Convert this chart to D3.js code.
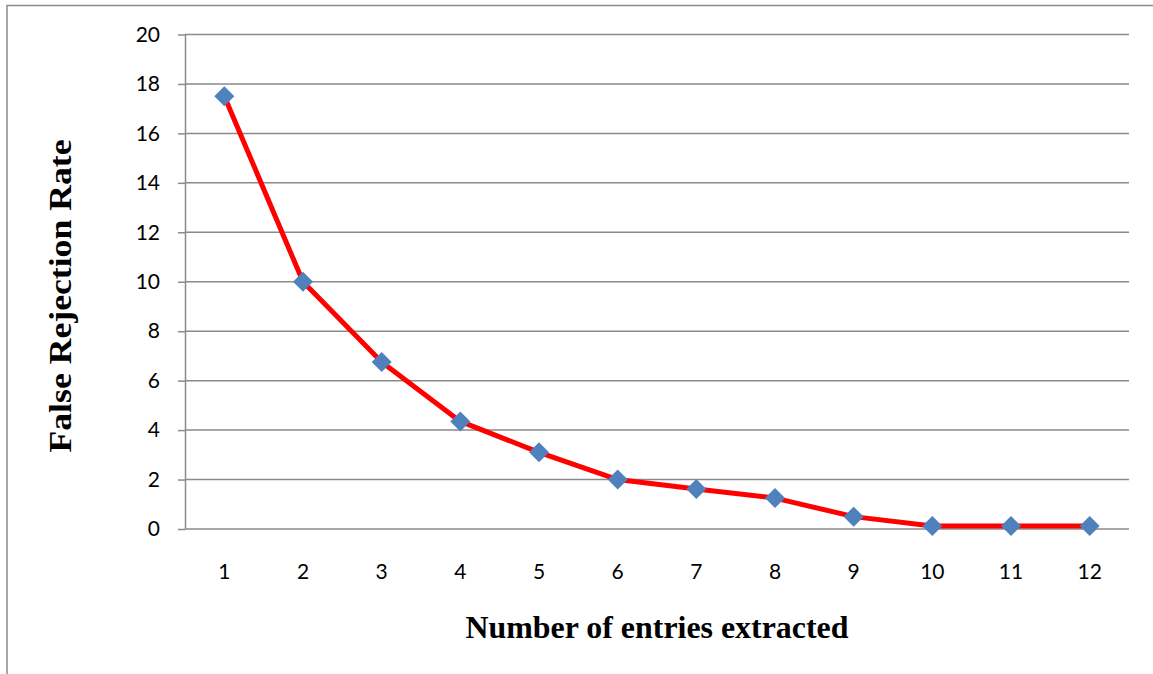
<!DOCTYPE html>
<html>
<head>
<meta charset="utf-8">
<script src="https://cdn.jsdelivr.net/npm/d3@7/dist/d3.min.js"></script>
<style>
  html, body { margin: 0; padding: 0; background: #fff; }
  svg { display: block; }
</style>
</head>
<body>
<svg id="chart" width="1153" height="674"></svg>
<script>
// Number of entries extracted vs. false rejection rate
const entries = ["1", "2", "3", "4", "5", "6", "7", "8", "9", "10", "11", "12"];
const frrValues = [17.5, 10, 6.75, 4.35, 3.1, 2.0, 1.62, 1.25, 0.5, 0.12, 0.12, 0.12];
const yTicks = [0, 2, 4, 6, 8, 10, 12, 14, 16, 18, 20];

const svg = d3.select("#chart");
const W = 1153, H = 674;
const plot = { left: 185, right: 1129, top: 34.5, bottom: 529 };
const gridColor = "#8a8a8a";
const tickFont = "Lato, 'Open Sans', sans-serif";
const titleFont = "'Liberation Serif', 'Times New Roman', serif";

// Outer frame (top and left edges)
svg.append("path")
  .attr("d", `M7,${H} L7,5.5 L${W},5.5`)
  .attr("fill", "none")
  .attr("stroke", gridColor)
  .attr("stroke-width", 1.5);

const x = d3.scaleBand().domain(entries).range([plot.left, plot.right]);
const y = d3.scaleLinear().domain([0, 20]).range([plot.bottom, plot.top]);

// Horizontal gridlines
svg.append("g")
  .selectAll("line")
  .data(yTicks)
  .join("line")
  .attr("x1", plot.left)
  .attr("x2", plot.right)
  .attr("y1", d => y(d))
  .attr("y2", d => y(d))
  .attr("stroke", gridColor)
  .attr("stroke-width", 1.5);

// Y axis
const yAxis = svg.append("g")
  .attr("transform", `translate(${plot.left},0)`)
  .call(d3.axisLeft(y).tickValues(yTicks).tickSize(7).tickPadding(18).tickSizeOuter(0));
yAxis.select(".domain").attr("stroke", gridColor).attr("stroke-width", 1.5);
yAxis.selectAll(".tick line").attr("stroke", gridColor).attr("stroke-width", 1.5);
yAxis.selectAll(".tick text")
  .attr("font-family", tickFont)
  .attr("font-size", 21)
  .attr("fill", "#000");

// X axis labels (the 0 gridline serves as the baseline)
const xAxis = svg.append("g")
  .attr("transform", `translate(0,${plot.bottom})`)
  .call(d3.axisBottom(x).tickSize(0).tickPadding(35));
xAxis.select(".domain").remove();
xAxis.selectAll(".tick text")
  .attr("font-family", tickFont)
  .attr("font-size", 21)
  .attr("fill", "#000");

// Series line
const cx = d => x(d) + x.bandwidth() / 2;
const pts = entries.map((e, i) => [cx(e), y(frrValues[i])]);
svg.append("path")
  .datum(pts)
  .attr("d", d3.line())
  .attr("fill", "none")
  .attr("stroke", "#ff0000")
  .attr("stroke-width", 5)
  .attr("stroke-linejoin", "round");

// Diamond markers
const r = 10;
svg.append("g")
  .selectAll("path")
  .data(pts)
  .join("path")
  .attr("d", d => `M${d[0]},${d[1] - r} L${d[0] + r},${d[1]} L${d[0]},${d[1] + r} L${d[0] - r},${d[1]} Z`)
  .attr("fill", "#4f81bd");

// Axis titles
svg.append("text")
  .attr("x", 657)
  .attr("y", 638)
  .attr("text-anchor", "middle")
  .attr("font-family", titleFont)
  .attr("font-weight", "bold")
  .attr("font-size", 31)
  .attr("textLength", 383)
  .attr("lengthAdjust", "spacingAndGlyphs")
  .text("Number of entries extracted");

svg.append("text")
  .attr("transform", "translate(71,296) rotate(-90)")
  .attr("text-anchor", "middle")
  .attr("font-family", titleFont)
  .attr("font-weight", "bold")
  .attr("font-size", 31)
  .attr("textLength", 313)
  .attr("lengthAdjust", "spacingAndGlyphs")
  .text("False Rejection Rate");
</script>
</body>
</html>
